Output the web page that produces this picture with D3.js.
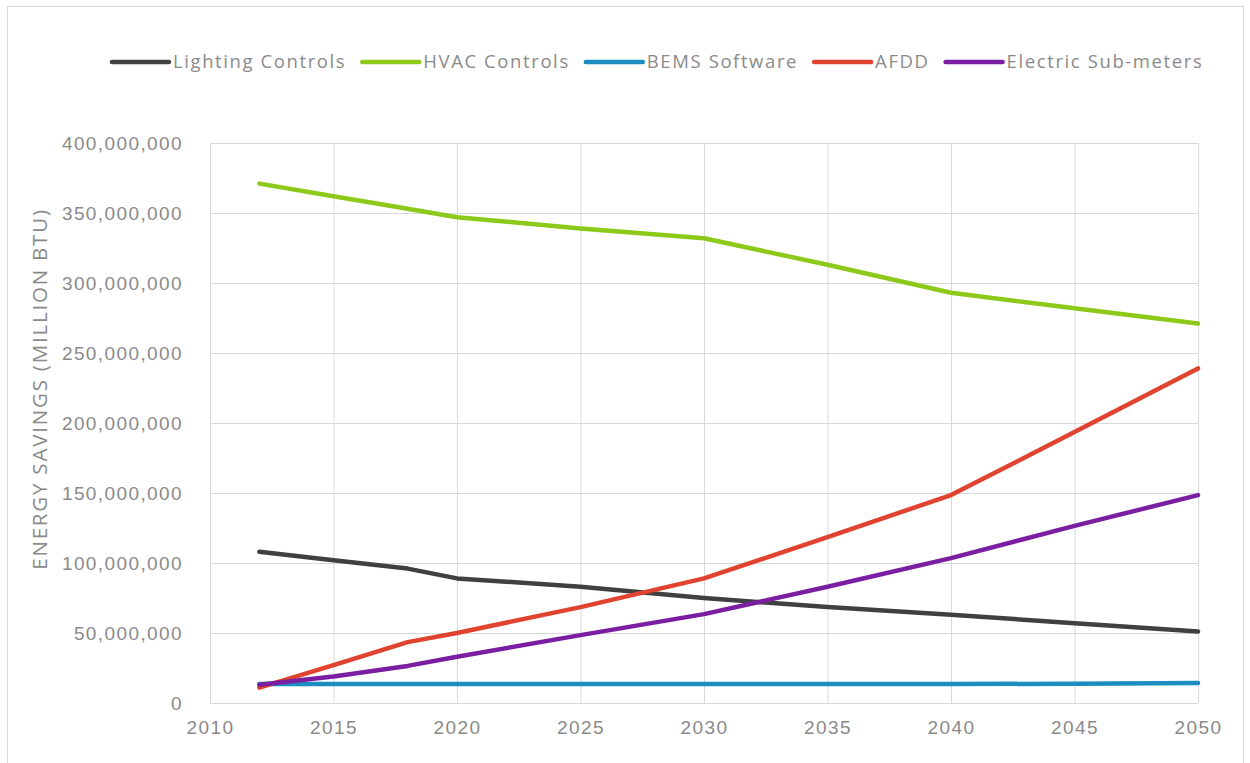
<!DOCTYPE html>
<html>
<head>
<meta charset="utf-8">
<script src="https://cdn.jsdelivr.net/npm/d3@7"></script>
<style>
	body { margin: 0; background: #fff; }
	svg { display: block; font-family: "Open Sans", "DejaVu Sans", sans-serif; }
</style>
</head>
<body>
<script>
// Годы (точки по оси X)
var years = [2012, 2015, 2018, 2020, 2025, 2030, 2035, 2040, 2045, 2050];

// Значения серий
var lightingControls = [108e6, 102e6, 96e6, 89e6, 83e6, 75e6, 68.5e6, 63e6, 57e6, 51e6];
var hvacControls = [371e6, 362e6, 353e6, 347e6, 339e6, 332e6, 313e6, 293e6, 282e6, 271e6];
var bemsSoftware = [13.5e6, 13.5e6, 13.5e6, 13.5e6, 13.5e6, 13.5e6, 13.5e6, 13.5e6, 13.8e6, 14.3e6];
var afdd = [11e6, 27e6, 43.5e6, 50e6, 68.5e6, 89e6, 118.5e6, 148.5e6, 193.5e6, 239e6];
var electricSubmeters = [13e6, 19e6, 26.5e6, 33e6, 48.5e6, 63.5e6, 83e6, 103.5e6, 126.5e6, 148.5e6];

var seriesNames = ['Lighting Controls', 'HVAC Controls', 'BEMS Software', 'AFDD', 'Electric Sub-meters'];
var seriesColors = ['#404040', '#8cc919', '#1b8dbf', '#e0432f', '#7b1fa2'];
var seriesValues = [lightingControls, hvacControls, bemsSoftware, afdd, electricSubmeters];

// Подписи осей
var xTicks = [2010, 2015, 2020, 2025, 2030, 2035, 2040, 2045, 2050];
var yTicks = [0, 50e6, 100e6, 150e6, 200e6, 250e6, 300e6, 350e6, 400e6];
var yTitle = 'ENERGY SAVINGS (MILLION BTU)';

function ready() {
	var width = 1250,
			height = 763,
			margin = { left: 210, right: 52, top: 143, bottom: 60 },
			textColor = '#8a8a8a',
			gridColor = '#d9d9d9';

	var svg = d3.select('body')
		.append('svg')
		.attr('width', width)
		.attr('height', height);

	// Рамка всей диаграммы
	svg.append('rect')
		.attr('x', 7.5)
		.attr('y', 6.5)
		.attr('width', 1236)
		.attr('height', 770)
		.attr('fill', 'none')
		.attr('stroke', gridColor);

	var x = d3.scaleLinear()
		.domain([2010, 2050])
		.range([margin.left, width - margin.right]);

	var y = d3.scaleLinear()
		.domain([0, 400e6])
		.range([height - margin.bottom, margin.top]);

	// Сетка по Y
	svg.append('g')
		.attr('transform', 'translate(' + margin.left + ',0)')
		.call(d3.axisLeft(y).tickValues(yTicks).tickSize(-(width - margin.left - margin.right)).tickFormat(''))
		.call(function(g) {
			g.select('.domain').remove();
			g.selectAll('line').attr('stroke', gridColor);
		});

	// Сетка по X
	svg.append('g')
		.attr('transform', 'translate(0,' + (height - margin.bottom) + ')')
		.call(d3.axisBottom(x).tickValues(xTicks).tickSize(-(height - margin.top - margin.bottom)).tickFormat(''))
		.call(function(g) {
			g.select('.domain').remove();
			g.selectAll('line').attr('stroke', gridColor);
		});

	// Подписи оси Y
	var fmt = d3.format(',');
	svg.append('g')
		.attr('transform', 'translate(' + (margin.left - 24) + ',0)')
		.call(d3.axisLeft(y).tickValues(yTicks).tickSize(0).tickFormat(fmt))
		.call(function(g) {
			g.select('.domain').remove();
			g.selectAll('text')
				.attr('fill', textColor)
				.attr('font-size', 19)
				.attr('letter-spacing', 1.4)
				.attr('dy', '0.35em');
		});

	// Подписи оси X
	svg.append('g')
		.attr('transform', 'translate(0,' + (height - margin.bottom + 14) + ')')
		.call(d3.axisBottom(x).tickValues(xTicks).tickSize(0).tickFormat(d3.format('d')))
		.call(function(g) {
			g.select('.domain').remove();
			g.selectAll('text')
				.attr('fill', textColor)
				.attr('font-size', 19)
				.attr('letter-spacing', 1.4);
		});

	// Название оси Y
	svg.append('text')
		.attr('transform', 'translate(47,389) rotate(-90)')
		.attr('text-anchor', 'middle')
		.attr('fill', textColor)
		.attr('font-size', 20.5)
		.attr('letter-spacing', 1.8)
		.text(yTitle);

	// Линии
	var line = d3.line()
		.x(function(d) { return x(d[0]); })
		.y(function(d) { return y(d[1]); });

	seriesValues.forEach(function(vals, i) {
		svg.append('path')
			.datum(years.map(function(yr, j) { return [yr, vals[j]]; }))
			.attr('d', line)
			.attr('fill', 'none')
			.attr('stroke', seriesColors[i])
			.attr('stroke-width', 4.5)
			.attr('stroke-linejoin', 'round')
			.attr('stroke-linecap', 'round');
	});

	// Легенда
	var legend = svg.append('g').attr('transform', 'translate(0,62)'),
			cursor = 112;

	seriesNames.forEach(function(name, i) {
		var item = legend.append('g').attr('transform', 'translate(' + cursor + ',0)');
		item.append('line')
			.attr('x1', 0)
			.attr('x2', 57)
			.attr('stroke', seriesColors[i])
			.attr('stroke-width', 4.5)
			.attr('stroke-linecap', 'round');
		var t = item.append('text')
			.attr('x', 61)
			.attr('dy', '0.35em')
			.attr('fill', textColor)
			.attr('font-size', 18.5)
			.attr('letter-spacing', 1.6)
			.text(name);
		cursor += 61 + t.node().getComputedTextLength() + 16;
	});
}

window.onload = function() {
	ready();
};
</script>
</body>
</html>
